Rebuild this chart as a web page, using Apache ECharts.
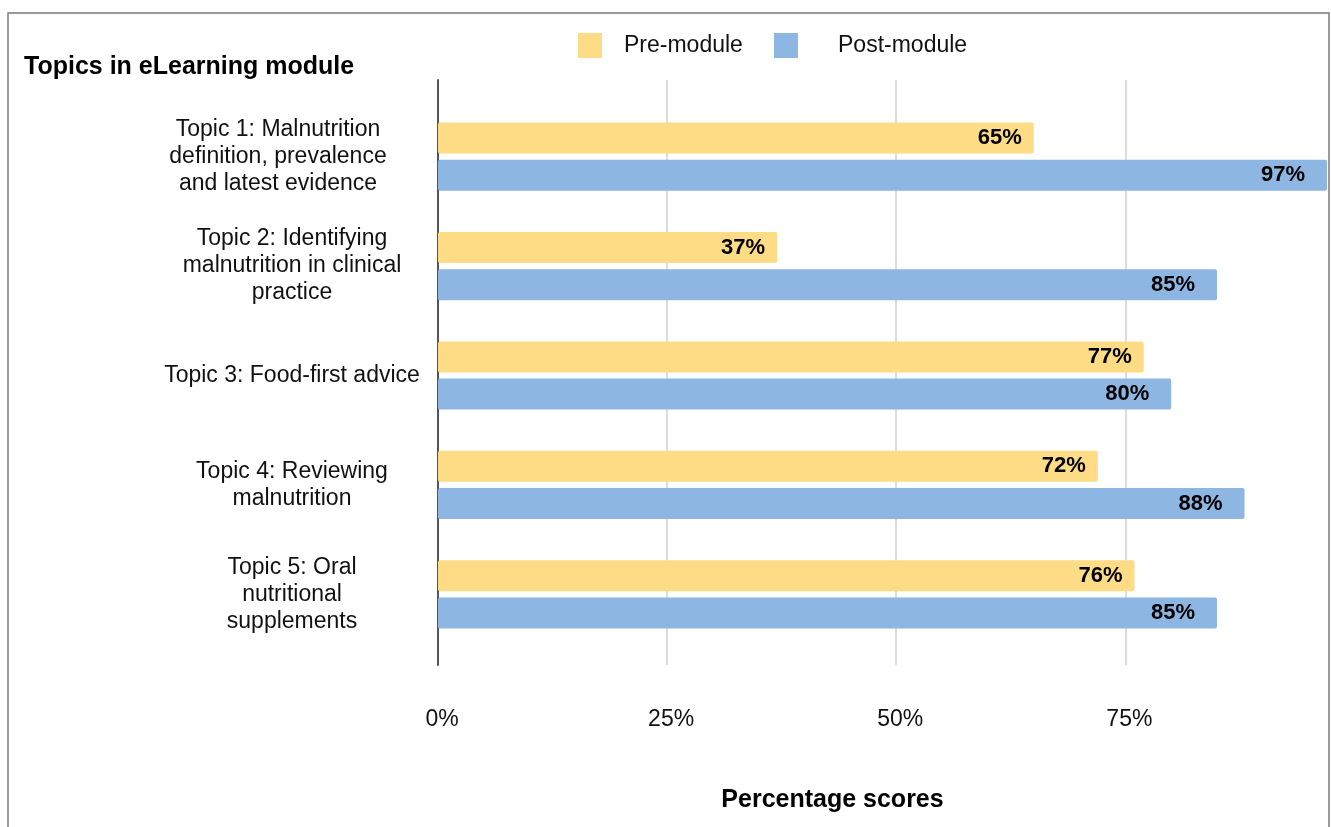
<!DOCTYPE html>
<html>
<head>
<meta charset="utf-8">
<script src="https://cdn.jsdelivr.net/npm/echarts@6/dist/echarts.min.js"></script>
<style>
html,body{margin:0;padding:0;background:#fff;}
#chart{width:1331px;height:827px;}
</style>
</head>
<body>
<div id="chart"></div>
<script>
const categories = [
  "Topic 1: Malnutrition\ndefinition, prevalence\nand latest evidence",
  "Topic 2: Identifying\nmalnutrition in clinical\npractice",
  "Topic 3: Food-first advice",
  "Topic 4: Reviewing\nmalnutrition",
  "Topic 5: Oral\nnutritional\nsupplements"
];
const preModule = [65, 37, 77, 72, 76];
const postModule = [97, 85, 80, 88, 85];
const seriesNames = ["Pre-module", "Post-module"];
const xTicks = [0, 25, 50, 75];

const FONT = "'Liberation Sans', Arial, sans-serif";
const chart = echarts.init(document.getElementById('chart'), null, {renderer: 'canvas'});

const option = {
  backgroundColor: '#fff',
  animation: false,
  textStyle: {fontFamily: FONT},
  graphic: [{
    type: 'rect', silent: true, z: -10,
    shape: {x: 8, y: 13, width: 1321, height: 840},
    style: {fill: 'none', stroke: '#7a7a7a', lineWidth: 1.5}
  }],
  title: {
    text: 'Topics in eLearning module',
    left: 24, top: 55, padding: 0,
    textStyle: {fontFamily: FONT, fontSize: 25, fontWeight: 'bold', color: '#000'}
  },
  legend: [{
    data: [seriesNames[0]],
    left: 578, top: 33, padding: 0,
    itemWidth: 24, itemHeight: 25,
    icon: 'rect',
    textStyle: {fontFamily: FONT, fontSize: 23, color: '#111', padding: [0, 0, 0, 17]}
  }, {
    data: [seriesNames[1]],
    left: 774, top: 33, padding: 0,
    itemWidth: 24, itemHeight: 25,
    icon: 'rect',
    textStyle: {fontFamily: FONT, fontSize: 23, color: '#111', padding: [0, 0, 0, 35]}
  }],
  grid: [
    {left: 438, right: 4, top: 102, bottom: 178},
    {left: 438, right: 4, top: 80, bottom: 162}
  ],
  xAxis: [{
    gridIndex: 0, type: 'value', min: 0, max: 'dataMax', interval: 25,
    show: false
  }, {
    gridIndex: 1, type: 'value', min: 0, max: Math.max(...postModule, ...preModule), interval: 25,
    axisLine: {show: false}, axisTick: {show: false},
    splitLine: {show: true, showMaxLine: false, lineStyle: {color: '#dcdcdc', width: 2}},
    axisLabel: {
      fontFamily: FONT, fontSize: 23, color: '#111', margin: 43,
      showMaxLabel: false,
      formatter: v => (xTicks.indexOf(v) >= 0) ? v + '%' : '',
      padding: [0, 0, 0, 8]
    },
    name: 'Percentage scores',
    nameLocation: 'middle',
    nameGap: 123,
    nameTextStyle: {fontFamily: FONT, fontSize: 25, fontWeight: 'bold', color: '#000',
      padding: [0, 0, 0, -100]}
  }],
  yAxis: [{
    gridIndex: 0, type: 'category', data: categories, inverse: true,
    axisLine: {show: false}, axisTick: {show: false}, splitLine: {show: false},
    axisLabel: {
      fontFamily: FONT, fontSize: 23, lineHeight: 27, color: '#111',
      align: 'center', margin: 146,
      formatter: (v, i) => i === 0 ? '{a|' + v.split('\n').join('}\n{a|') + '}' : v,
      rich: {a: {fontFamily: FONT, fontSize: 23, lineHeight: 27, color: '#111', padding: [0, 28, 0, 0]}}
    }
  }, {
    gridIndex: 1, type: 'category', data: ['a'],
    axisLine: {show: true, lineStyle: {color: '#555', width: 2}},
    axisTick: {show: false}, axisLabel: {show: false}, splitLine: {show: false}
  }],
  series: [{
    name: seriesNames[0], type: 'bar', xAxisIndex: 0, yAxisIndex: 0,
    data: preModule, barWidth: 31, barGap: '20%',
    itemStyle: {color: '#FDDC85', borderRadius: 2},
    label: {
      show: true, position: 'insideRight', distance: 12,
      formatter: p => p.value + '%',
      fontFamily: FONT, fontSize: 22, fontWeight: 'bold', color: '#000'
    }
  }, {
    name: seriesNames[1], type: 'bar', xAxisIndex: 0, yAxisIndex: 0,
    data: postModule, barWidth: 31,
    itemStyle: {color: '#8EB6E2', borderRadius: 2},
    label: {
      show: true, position: 'insideRight', distance: 22,
      formatter: p => p.value + '%',
      fontFamily: FONT, fontSize: 22, fontWeight: 'bold', color: '#000'
    }
  }]
};
chart.setOption(option);
</script>
</body>
</html>
